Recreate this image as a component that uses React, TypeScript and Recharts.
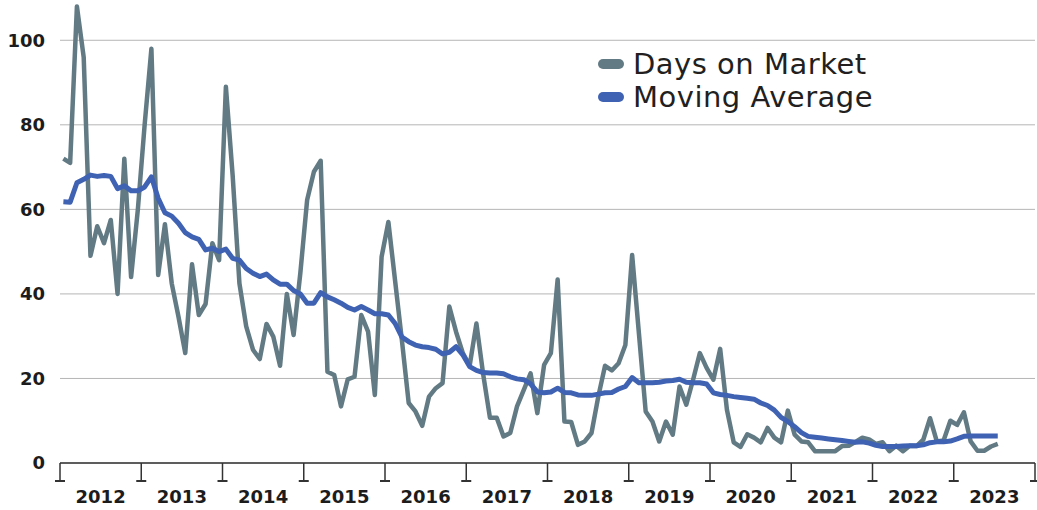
import { LineChart, Line, XAxis, YAxis, CartesianGrid, Legend } from "recharts";

const years = ["2012", "2013", "2014", "2015", "2016", "2017", "2018", "2019", "2020", "2021", "2022", "2023"];

// monthly values, Jan 2012 .. Jul 2023
const daysOnMarket = [
    72, 71, 108, 96, 49, 56, 52, 57.5, 40, 72, 44, 60,
    80, 98, 44.5, 56.5, 42.5, 34.6, 26, 47, 35, 37.6, 52, 48,
    89, 68, 42.5, 32.3, 26.8, 24.6, 32.9, 29.9, 23, 40, 30.3, 45,
    62.2, 68.9, 71.5, 21.6, 20.8, 13.4, 19.8, 20.4, 35, 31.1, 16.1, 48.8,
    57, 43, 29, 14.2, 12.2, 8.8, 15.7, 17.7, 18.9, 37, 31, 26,
    23, 33, 21, 10.7, 10.7, 6.3, 7.1, 13.4, 17.3, 21.2, 11.8, 23.2,
    26, 43.4, 9.8, 9.7, 4.3, 5.1, 7.1, 15.7, 23, 21.9, 23.6, 27.9,
    49.2, 30.7, 12.2, 9.8, 5.1, 9.8, 6.7, 18.1, 13.8, 19.7, 26, 22.5,
    19.7, 27, 12.6, 4.9, 3.8, 6.8, 6, 4.9, 8.3, 6, 4.9, 12.4,
    6.7, 5.1, 4.9, 2.8, 2.8, 2.8, 2.8, 4, 4.1, 5, 6, 5.6,
    4.5, 4.9, 2.8, 4.1, 2.8, 4.1, 4, 5.5, 10.6, 5.1, 5.3, 10,
    9, 12, 5.1, 2.9, 2.9, 3.9, 4.5,
];

const movingAverage = [
    61.8, 61.7, 66.3, 67.1, 68.1, 67.8, 68, 67.8, 64.9, 65.6, 64.4, 64.4,
    65.3, 67.7, 62.6, 59.2, 58.4, 56.7, 54.5, 53.5, 52.9, 50.4, 50.8, 50,
    50.6, 48.4, 48, 46, 44.9, 44.1, 44.7, 43.3, 42.3, 42.3, 40.8, 40,
    37.8, 37.8, 40.3, 39.3, 38.6, 37.8, 36.8, 36.2, 37, 36.2, 35.3, 35.3,
    35, 33, 29.8, 28.7, 27.9, 27.5, 27.3, 26.9, 25.8, 26.2, 27.5, 25.6,
    22.8, 21.9, 21.4, 21.3, 21.3, 21.1, 20.4, 19.9, 19.7, 18.7, 16.8, 16.6,
    16.8, 17.7, 16.7, 16.6, 16.1, 16, 16, 16.3, 16.6, 16.7, 17.5, 18.1,
    20.2, 19, 19, 19, 19.1, 19.4, 19.5, 19.8, 19.1, 19, 19, 18.7,
    16.6, 16.2, 16, 15.7, 15.5, 15.3, 15.1, 14.2, 13.6, 12.5, 10.8, 9.8,
    8.6, 7.2, 6.3, 6.1, 5.9, 5.7, 5.5, 5.3, 5.1, 4.9, 5, 4.7,
    4.2, 3.9, 3.9, 3.9, 4, 4.1, 4.1, 4.3, 4.8, 5, 5, 5.2,
    5.7, 6.3, 6.4, 6.4, 6.4, 6.4, 6.4,
];

const yTicks = [0, 20, 40, 60, 80, 100];
// year boundaries every 12 months, labels in the middle
const xTicks = Array.from({ length: years.length * 2 + 1 }, (_, i) => i * 6);

const data = daysOnMarket.map((d, i) => ({
    month: i + 0.5,
    days: d,
    avg: movingAverage[i],
}));

const FONT = "DejaVu Sans";

const YearTick = (props: any) => {
    const { x, y, payload } = props;
    const v = payload.value;
    if (v % 12 === 0) {
        return (
            <g>
                <line x1={x} y1={y} x2={x} y2={y + 18} stroke="#333" strokeWidth={1.5} />
                <line x1={x - 5} y1={y + 18} x2={x + 5} y2={y + 18} stroke="#333" strokeWidth={2} />
            </g>
        );
    }
    return (
        <text
            x={x}
            y={y + 40}
            textAnchor="middle"
            fontFamily={FONT}
            fontWeight="bold"
            fontSize={18}
            fill="#1c1c1c"
        >
            {years[(v - 6) / 12]}
        </text>
    );
};

const renderLegend = (props: any) => {
    const { payload } = props;
    return (
        <div style={{ fontFamily: FONT, fontSize: 29, letterSpacing: 0.5, color: "#231f20" }}>
            {payload.map((entry: any) => (
                <div
                    key={entry.value}
                    style={{ display: "flex", alignItems: "center", height: 33 }}
                >
                    <span
                        style={{
                            display: "inline-block",
                            width: 26,
                            height: 10,
                            borderRadius: 5,
                            background: entry.color,
                            marginRight: 9,
                        }}
                    />
                    <span>{entry.value}</span>
                </div>
            ))}
        </div>
    );
};

export default function App() {
    return (
        <div style={{ position: "absolute", left: 0, top: -2 }}>
            <LineChart
                width={1037}
                height={512}
                data={data}
                margin={{ top: 0, right: 2, bottom: 2, left: 0 }}
            >
                <CartesianGrid vertical={false} stroke="#b5b5b5" />
                <XAxis
                    type="number"
                    dataKey="month"
                    domain={[0, 144]}
                    ticks={xTicks}
                    interval={0}
                    tick={<YearTick />}
                    tickLine={false}
                    tickSize={0}
                    tickMargin={0}
                    axisLine={{ stroke: "#333", strokeWidth: 1.5 }}
                    height={45}
                />
                <YAxis
                    type="number"
                    domain={[0, 110]}
                    ticks={yTicks}
                    axisLine={false}
                    tickLine={false}
                    tickSize={0}
                    tickMargin={15}
                    width={60}
                    tick={{
                        fontFamily: FONT,
                        fontWeight: "bold",
                        fontSize: 18,
                        fill: "#1c1c1c",
                    }}
                />
                <Legend
                    layout="vertical"
                    align="center"
                    verticalAlign="middle"
                    content={renderLegend}
                    wrapperStyle={{ left: 598, top: 49, width: "auto" }}
                />
                <Line
                    type="linear"
                    dataKey="days"
                    name="Days on Market"
                    stroke="#617a84"
                    strokeWidth={4.5}
                    strokeLinejoin="round"
                    dot={false}
                    activeDot={false}
                    isAnimationActive={false}
                />
                <Line
                    type="linear"
                    dataKey="avg"
                    name="Moving Average"
                    stroke="#3f62b3"
                    strokeWidth={5}
                    strokeLinejoin="round"
                    dot={false}
                    activeDot={false}
                    isAnimationActive={false}
                />
            </LineChart>
        </div>
    );
}
